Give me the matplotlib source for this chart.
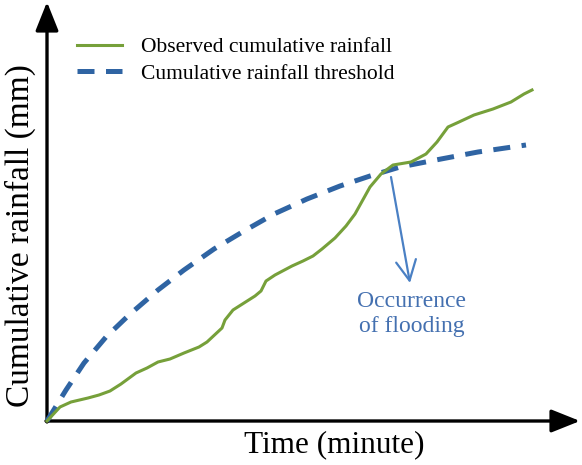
import matplotlib
matplotlib.use("Agg")
import matplotlib.pyplot as plt

# --- data (arbitrary units) ---
obs_time = [0, 13, 24, 41, 52, 63, 74, 89, 100, 111, 123, 137, 152, 160, 175, 178, 186,
            197, 208, 214, 219, 228, 245, 256, 266, 275, 288, 299, 308, 318, 323, 334,
            346, 364, 379, 390, 401, 412, 427, 446, 464, 477, 485]
obs_rain = [0, 14, 19, 23, 26, 30, 37, 48, 53, 59, 62, 68, 74, 79, 93, 101, 111,
            118, 125, 130, 140, 146, 155, 160, 165, 172, 183, 195, 207, 225, 234, 247,
            256, 259, 267, 279, 294, 299, 306, 312, 319, 327, 331]

thr_time = [0, 19, 37, 59, 82, 111, 137, 167, 197, 227, 260, 293, 323, 353, 394, 431, 479]
thr_rain = [0, 31, 58, 84, 106, 131, 151, 172, 190, 207, 222, 235, 245, 254, 262, 269, 276]

flood_arrow_start = (344, 244)
flood_arrow_end = (363, 138)

green = "#76a03a"
blue = "#2f64a3"
arrow_blue = "#4a80c4"
text_blue = "#4470b0"

plt.rcParams['font.family'] = ['Liberation Serif', 'DejaVu Serif']

fig = plt.figure(figsize=(5.82, 4.65), dpi=100)
ax = fig.add_axes([0, 0, 1, 1])
ax.set_xlim(-47, 535)
ax.set_ylim(-44, 421)
ax.axis("off")

# axes with arrow heads
axis_style = dict(arrowstyle="-|>,head_length=0.8,head_width=0.32", mutation_scale=22,
                  lw=2.4, color="black", shrinkA=0, shrinkB=0)
ax.annotate("", xy=(533, 0), xytext=(-1, 0), arrowprops=axis_style)
ax.annotate("", xy=(0, 419), xytext=(0, -1), arrowprops=axis_style)

ax.plot(thr_time, thr_rain, color=blue, lw=3.6, linestyle=(0, (3.4, 2.3)),
        label="Cumulative rainfall threshold", zorder=3)
ax.plot(obs_time, obs_rain, color=green, lw=2.2, label="Observed cumulative rainfall",
        zorder=4)

# occurrence of flooding
ax.annotate("", xy=flood_arrow_end, xytext=flood_arrow_start,
            arrowprops=dict(arrowstyle="->,head_length=0.8,head_width=0.4",
                            mutation_scale=18, lw=1.6, color=arrow_blue,
                            shrinkA=0, shrinkB=0))
ax.text(365, 107, "Occurrence\nof flooding", color=text_blue, fontsize=17,
        ha="center", va="center", linespacing=1.2)

ax.text(287, -24, "Time (minute)", fontsize=22.5, ha="center", va="center")
ax.text(-27, 185, "Cumulative rainfall (mm)", fontsize=24, ha="center", va="center",
        rotation=90)

handles, labels = ax.get_legend_handles_labels()
ax.legend(handles[::-1], labels[::-1], loc="upper left",
          bbox_to_anchor=(77 / 582, 1 - 37 / 465), bbox_transform=fig.transFigure,
          frameon=False, fontsize=15.5, handlelength=2.1, handletextpad=0.85,
          borderpad=0, borderaxespad=0, labelspacing=0.3)

fig.savefig("out.png", dpi=100)
